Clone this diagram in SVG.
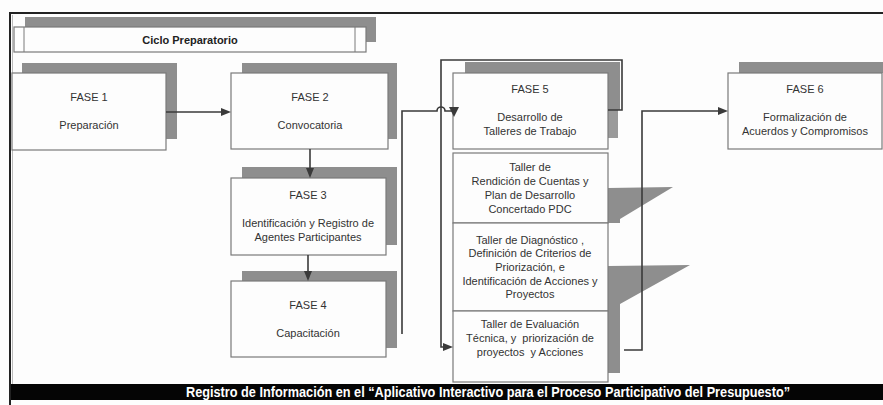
<svg xmlns="http://www.w3.org/2000/svg" width="883" height="405" viewBox="0 0 883 405">
<style>
  .shadow{fill:#8e8e8e;}
  .box{fill:#fdfdfd;stroke:#7a7a7a;stroke-width:1.2;}
  .t{font-family:"Liberation Sans",Arial,sans-serif;font-size:11px;fill:#333;text-anchor:middle;white-space:pre;}
  .b{font-weight:bold;fill:#222;}
  .conn{fill:none;stroke:#3a3a3a;stroke-width:1.6;}
  .ah{fill:#3a3a3a;}
</style>
<rect width="883" height="405" fill="#fdfdfd"/>
<!-- frame -->
<line x1="9" y1="13" x2="883" y2="13" stroke="#222" stroke-width="2"/>
<line x1="10" y1="13" x2="10" y2="405" stroke="#222" stroke-width="2"/>
<line x1="12.5" y1="15" x2="12.5" y2="384" stroke="#bbb" stroke-width="1"/>

<g id="ciclo">
  <rect class="shadow" x="25" y="17" width="351" height="25"/>
  <rect class="box" x="14" y="27" width="352" height="25"/>
  <line x1="24" y1="27" x2="24" y2="52" stroke="#7a7a7a" stroke-width="1"/>
  <line x1="355" y1="27" x2="355" y2="52" stroke="#7a7a7a" stroke-width="1"/>
  <text class="t b" x="190" y="44">Ciclo Preparatorio</text>
</g>

<g id="fase1">
  <rect class="shadow" x="22" y="63" width="155" height="76"/>
  <rect class="box" x="12" y="73" width="154" height="77"/>
  <text class="t" x="89" y="101">FASE 1</text>
  <text class="t" x="89" y="129">Preparación</text>
</g>

<g id="fase2">
  <rect class="shadow" x="242" y="63" width="155" height="76"/>
  <rect class="box" x="231" y="73" width="157" height="76"/>
  <text class="t" x="310" y="101">FASE 2</text>
  <text class="t" x="310" y="129">Convocatoria</text>
</g>

<g id="fase3">
  <rect class="shadow" x="242" y="167" width="155" height="78"/>
  <rect class="box" x="231" y="178" width="155" height="77"/>
  <text class="t" x="308" y="199">FASE 3</text>
  <text class="t" x="308" y="227">Identificación y Registro de</text>
  <text class="t" x="308" y="241">Agentes Participantes</text>
</g>

<g id="fase4">
  <rect class="shadow" x="242" y="271" width="155" height="77"/>
  <rect class="box" x="231" y="281" width="155" height="76"/>
  <text class="t" x="308" y="309">FASE 4</text>
  <text class="t" x="308" y="337">Capacitación</text>
</g>

<g id="fase5">
  <rect class="shadow" x="465" y="62" width="155" height="48"/>
  <rect x="608" y="110" width="10" height="28" fill="#9a9a9a"/>
  <rect class="box" x="453" y="73" width="155" height="76"/>
  <text class="t" x="530" y="93">FASE 5</text>
  <text class="t" x="530" y="121">Desarrollo de</text>
  <text class="t" x="530" y="135">Talleres de Trabajo</text>
</g>

<g id="taller1">
  <polygon class="shadow" points="608,188 673,187 620,219 620,223 608,223"/>
  <rect class="box" x="453" y="153" width="155" height="70"/>
  <text class="t" x="530" y="171">Taller de</text>
  <text class="t" x="530" y="185">Rendición de Cuentas y</text>
  <text class="t" x="530" y="199">Plan de Desarrollo</text>
  <text class="t" x="530" y="213">Concertado PDC</text>
</g>

<g id="taller2">
  <polygon class="shadow" points="608,266 690,265 620,304 620,373 608,373"/>
  <rect class="box" x="453" y="223" width="155" height="88"/>
  <text class="t" x="530" y="244">Taller de Diagnóstico ,</text>
  <text class="t" x="530" y="257">Definición de Criterios de</text>
  <text class="t" x="530" y="271">Priorización, e</text>
  <text class="t" x="530" y="285">Identificación de Acciones y</text>
  <text class="t" x="530" y="298">Proyectos</text>
</g>

<g id="taller3">
  <rect class="box" x="453" y="311" width="155" height="71"/>
  <text class="t" x="530" y="328">Taller de Evaluación</text>
  <text class="t" x="530" y="342" xml:space="preserve">Técnica, y  priorización de</text>
  <text class="t" x="530" y="356" xml:space="preserve">proyectos  y Acciones</text>
</g>

<g id="fase6">
  <rect class="shadow" x="739" y="62" width="144" height="11"/>
  <rect class="box" x="728" y="73" width="154" height="76"/>
  <text class="t" x="805" y="93">FASE 6</text>
  <text class="t" x="805" y="121">Formalización de</text>
  <text class="t" x="805" y="135">Acuerdos y Compromisos</text>
</g>

<g id="connectors">
  <path class="conn" d="M166,112 H223"/>
  <polygon class="ah" points="231,112 221,108 221,116"/>
  <path class="conn" d="M310,149 V170"/>
  <polygon class="ah" points="310,178 306,168 314,168"/>
  <path class="conn" d="M308,255 V273"/>
  <polygon class="ah" points="308,281 304,271 312,271"/>
  <path class="conn" d="M402,334 V111 H437 a4,4 0 0 1 8,0 H454"/>
  <polygon class="ah" points="449,107 459,107 454,117"/>
  <path class="conn" d="M608,110 H622 V60 H441 V347 H446"/>
  <polygon class="ah" points="453,347 443,343 443,351"/>
  <path class="conn" d="M624,350 H642 V111 H720"/>
  <polygon class="ah" points="728,111 718,107 718,115"/>
</g>

<g id="footer">
  <rect x="11" y="384" width="872" height="16" fill="#050505"/>
  <text x="488" y="397" font-family="'Liberation Sans',Arial,sans-serif" font-size="14" font-weight="bold" fill="#fff" text-anchor="middle" textLength="604" lengthAdjust="spacingAndGlyphs">Registro de Información en el “Aplicativo Interactivo para el Proceso Participativo del Presupuesto”</text>
</g>
</svg>
